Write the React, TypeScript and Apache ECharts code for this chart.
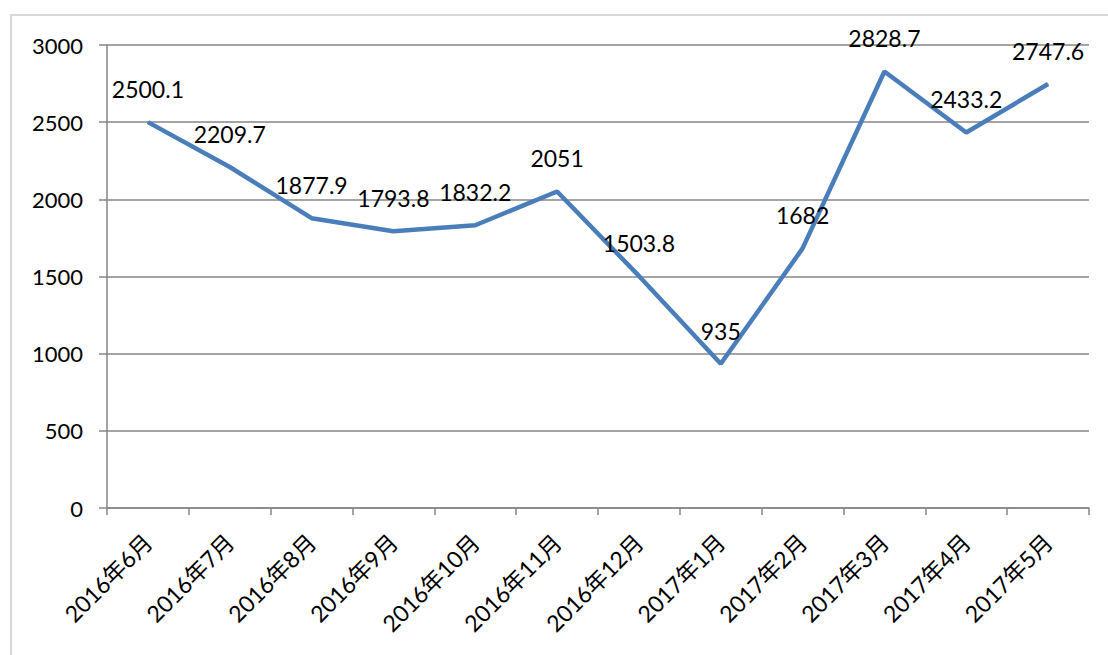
import React, { useEffect, useRef } from "react";
import * as echarts from "echarts";

const categories = [
  "2016年6月", "2016年7月", "2016年8月", "2016年9月", "2016年10月", "2016年11月",
  "2016年12月", "2017年1月", "2017年2月", "2017年3月", "2017年4月", "2017年5月",
];
const values = [2500.1, 2209.7, 1877.9, 1793.8, 1832.2, 2051, 1503.8, 935, 1682, 2828.7, 2433.2, 2747.6];
const yMin = 0;
const yMax = 3000;
const yInterval = 500;

const FONT = "Lato, 'Noto Sans CJK SC', sans-serif";

export default function App() {
  const ref = useRef<HTMLDivElement>(null);
  useEffect(() => {
    if (!ref.current) return;
    const chart = echarts.init(ref.current, null, { renderer: "svg" });
    chart.setOption({
      animation: false,
      backgroundColor: "#ffffff",
      graphic: [
        {
          type: "rect",
          shape: { x: 11, y: 15, width: 1120, height: 700 },
          style: { fill: "none", stroke: "#d9d9d9", lineWidth: 2 },
          silent: true,
        },
      ],
      grid: { left: 107, right: 19, top: 45, bottom: 147, containLabel: false },
      xAxis: {
        type: "category",
        data: categories,
        boundaryGap: true,
        axisLine: { show: true, lineStyle: { color: "#868686", width: 1.5 } },
        axisTick: { show: true, length: 7, alignWithLabel: false, lineStyle: { color: "#868686", width: 1.5 } },
        axisLabel: {
          rotate: 45,
          interval: 0,
          margin: 30,
          fontSize: 23,
          color: "#000000",
          fontFamily: FONT,
        },
      },
      yAxis: {
        type: "value",
        min: yMin,
        max: yMax,
        interval: yInterval,
        axisLine: { show: true, lineStyle: { color: "#868686", width: 1.5 } },
        axisTick: { show: true, length: 8, lineStyle: { color: "#868686", width: 1.5 } },
        splitLine: { show: true, lineStyle: { color: "#868686", width: 1.5 } },
        axisLabel: {
          fontSize: 22,
          color: "#000000",
          margin: 24,
          fontFamily: FONT,
          formatter: (v: number) => String(v),
        },
      },
      series: [
        {
          type: "line",
          data: values,
          symbol: "circle",
          symbolSize: 1,
          showSymbol: true,
          lineStyle: { color: "#4A7EBB", width: 4.5 },
          itemStyle: { color: "#4A7EBB" },
          label: {
            show: true,
            position: "top",
            distance: 21,
            fontSize: 23,
            color: "#000000",
            fontFamily: FONT,
            formatter: (p: any) => String(p.value),
          },
        },
      ],
    });
    return () => chart.dispose();
  }, []);
  return (
    <div
      ref={ref}
      style={{ position: "fixed", left: 0, top: 0, width: 1108, height: 655 }}
    />
  );
}
